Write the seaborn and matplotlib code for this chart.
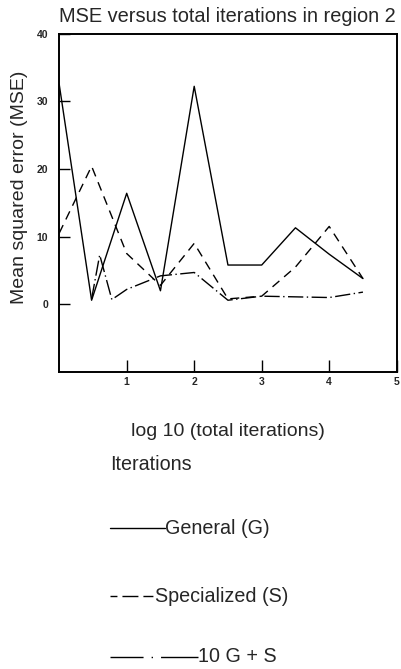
import matplotlib
matplotlib.use("Agg")
import matplotlib.pyplot as plt
from matplotlib.lines import Line2D
import seaborn as sns
import pandas as pd

# ---- data ----
x_general = [0.0, 0.48, 1.0, 1.5, 2.0, 2.5, 3.0, 3.5, 4.0, 4.5]
y_general = [32.5, 0.6, 16.4, 2.0, 32.2, 5.8, 5.8, 11.3, 7.4, 3.8]

x_special = [0.0, 0.48, 1.0, 1.5, 2.0, 2.5, 3.0, 3.5, 4.0, 4.5]
y_special = [10.5, 20.4, 7.5, 2.8, 9.0, 0.8, 1.2, 5.5, 11.5, 3.8]

x_combo = [0.48, 0.6, 0.78, 1.0, 1.5, 2.0, 2.5, 3.0, 3.5, 4.0, 4.5]
y_combo = [0.8, 7.3, 0.7, 2.2, 4.2, 4.7, 0.6, 1.2, 1.1, 1.0, 1.8]

series_labels = ["General (G)", "Specialized (S)", "10 G + S"]
x_ticks = [1, 2, 3, 4, 5]
y_ticks = [0, 10, 20, 30, 40]

sns.set_style("white")
plt.rcParams["font.family"] = ["Liberation Sans", "DejaVu Sans"]

fig = plt.figure(figsize=(4.02, 6.69), dpi=100)
ax = fig.add_axes([59.2 / 402, 1 - 372 / 669, (396.7 - 59.2) / 402, (372 - 33.5) / 669])

df_g = pd.DataFrame({"x": x_general, "y": y_general})
df_s = pd.DataFrame({"x": x_special, "y": y_special})
df_c = pd.DataFrame({"x": x_combo, "y": y_combo})

sns.lineplot(data=df_g, x="x", y="y", ax=ax, color="black", lw=1.0,
             estimator=None, sort=False)
sns.lineplot(data=df_s, x="x", y="y", ax=ax, color="black", lw=1.0,
             estimator=None, sort=False, linestyle=(0, (6.5, 4.5)))
sns.lineplot(data=df_c, x="x", y="y", ax=ax, color="black", lw=1.0,
             estimator=None, sort=False, linestyle=(0, (11, 2.5, 1, 2.5)))

ax.set_xlim(0, 5)
ax.set_ylim(-10, 40)
ax.set_xticks(x_ticks)
ax.set_xticklabels([str(t) for t in x_ticks], fontsize=7.5, fontweight="bold")
ax.set_yticks(y_ticks)
ax.set_yticklabels([str(t) for t in y_ticks], fontsize=7.5, fontweight="bold")
ax.tick_params(axis="x", bottom=True, direction="in", length=8.5, width=1.0,
               pad=3.5, color="black")
ax.tick_params(axis="y", left=True, direction="in", length=8, width=1.0,
               pad=8, color="black")
for s in ax.spines.values():
    s.set_color("black")
    s.set_linewidth(1.4)
    s.set_visible(True)

ax.set_xlabel("log 10 (total iterations)", fontsize=14)
ax.set_ylabel("Mean squared error (MSE)", fontsize=14)
ax.yaxis.set_label_coords(-0.092, 0.547)
ax.xaxis.set_label_coords(0.5, -0.151)

fig.text(59 / 402, 1 - 17 / 669, "MSE versus total iterations in region 2",
         fontsize=14.4, ha="left", va="center")

# ---- legend-like key below the chart ----
fs = 14.2
fig.text(110 / 402, 1 - 465 / 669, "Iterations", fontsize=fs, ha="left", va="center")
key_y = [528, 596, 657]
key_x1 = [165, 155, 198]
key_styles = ["-", (0, (5, 3.6, 11.5, 3.6, 7.2, 10)), (0, (23.8, 5.8, 1, 5.8, 30, 5))]
for yy, x1, st, lab in zip(key_y, key_x1, key_styles, series_labels):
    fy = 1 - yy / 669
    fig.add_artist(Line2D([110 / 402, x1 / 402], [fy, fy], transform=fig.transFigure,
                          color="black", lw=1.0, linestyle=st))
    fig.text(x1 / 402, fy, lab, fontsize=fs, ha="left", va="center")

fig.savefig("out.png", dpi=100)
